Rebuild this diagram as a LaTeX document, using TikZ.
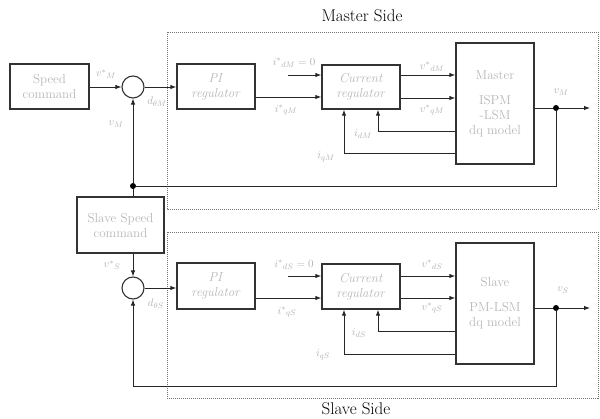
\documentclass[tikz,border=0pt]{standalone}
\usetikzlibrary{arrows.meta}
\begin{document}
\begin{tikzpicture}[x=1pt,y=-1pt,
  blk/.style={draw=black!80, line width=1.4pt, fill=white, text=black!28, align=center,
    font=\fontsize{13}{15}\selectfont, inner sep=0pt},
  sumc/.style={circle, draw=black!80, line width=1.1pt, minimum size=22pt, inner sep=0pt},
  lbl/.style={text=black!30, font=\fontsize{11}{12}\selectfont, inner sep=0pt},
  arr/.style={-{Latex[length=6pt,width=4.5pt]}, line width=0.9pt, draw=black!85},
  ln/.style={line width=0.9pt, draw=black!85},
  zone/.style={draw=black!55, dash pattern=on 1pt off 1pt, line width=0.5pt},
  dotn/.style={circle, fill=black, inner sep=0pt, minimum size=6pt},
  side/.style={font=\fontsize{17}{18}\selectfont, inner sep=0pt}]
\useasboundingbox (0,0) rectangle (600,419);
% zones
\draw[zone] (167,32) rectangle (598,209);
\draw[zone] (167,232) rectangle (598,398);
\node[side] (mside) at (362,16) {Master Side};
\node[side] (sside) at (356,409) {Slave Side};
% master blocks
\node[blk, minimum width=79pt, minimum height=45pt] (spd) at (49.5,86.5) {Speed\\command};
\node[sumc] (sumM) at (133,87) {};
\node[blk, minimum width=78pt, minimum height=45pt] (piM) at (216,86.5) {\textit{PI}\\\textit{regulator}};
\node[blk, minimum width=78pt, minimum height=44pt] (crM) at (361,87) {\textit{Current}\\\textit{regulator}};
\node[blk, minimum width=78pt, minimum height=121pt] (mdM) at (495,103.5) {Master\\[10pt]ISPM\\-LSM\\dq model};
% slave blocks
\node[blk, minimum width=87pt, minimum height=56pt] (sspd) at (120.5,225) {Slave Speed\\command};
\node[sumc] (sumS) at (133,288) {};
\node[blk, minimum width=78pt, minimum height=46pt] (piS) at (216,286) {\textit{PI}\\\textit{regulator}};
\node[blk, minimum width=78pt, minimum height=45pt] (crS) at (361,286.5) {\textit{Current}\\\textit{regulator}};
\node[blk, minimum width=78pt, minimum height=121pt] (mdS) at (495,303.5) {Slave\\[10pt]PM-LSM\\dq model};
% coordinates
\coordinate (idM0) at (288,75);
\coordinate (iqMy) at (0,97);
\coordinate (vdMy) at (0,75);
\coordinate (vqMy) at (0,98);
\coordinate (fdM) at (378,131);
\coordinate (fqM) at (344,153);
\node[dotn] (oM) at (556,108) {};
\coordinate (eM) at (590,108);
\node[dotn] (jM) at (133,186) {};
\coordinate (idS0) at (288,276);
\coordinate (iqSy) at (0,298);
\coordinate (vdSy) at (0,276);
\coordinate (vqSy) at (0,298);
\coordinate (fdS) at (378,331);
\coordinate (fqS) at (344,354);
\node[dotn] (oS) at (556,308) {};
\coordinate (eS) at (590,308);
\coordinate (bS) at (556,386);
% master connections
\draw[arr] (spd.east |- sumM.west) -- (sumM.west);
\draw[arr] (sumM.east) -- (piM.west |- sumM.east);
\draw[arr] (idM0) -- (crM.west |- idM0);
\draw[arr] (piM.east |- iqMy) -- (crM.west |- iqMy);
\draw[arr] (crM.east |- vdMy) -- (mdM.west |- vdMy);
\draw[arr] (crM.east |- vqMy) -- (mdM.west |- vqMy);
\draw[arr] (mdM.west |- fdM) -- (fdM) -- (crM.south -| fdM);
\draw[arr] (mdM.west |- fqM) -- (fqM) -- (crM.south -| fqM);
\draw[ln] (mdM.east |- oM) -- (oM);
\draw[arr] (oM) -- (eM);
\draw[ln] (oM) -- (oM |- jM) -- (jM);
\draw[arr] (jM) -- (sumM.south);
\draw[ln] (jM) -- (jM |- sspd.north);
% slave connections
\draw[arr] (sumS.north |- sspd.south) -- (sumS.north);
\draw[arr] (sumS.east) -- (piS.west |- sumS.east);
\draw[arr] (idS0) -- (crS.west |- idS0);
\draw[arr] (piS.east |- iqSy) -- (crS.west |- iqSy);
\draw[arr] (crS.east |- vdSy) -- (mdS.west |- vdSy);
\draw[arr] (crS.east |- vqSy) -- (mdS.west |- vqSy);
\draw[arr] (mdS.west |- fdS) -- (fdS) -- (crS.south -| fdS);
\draw[arr] (mdS.west |- fqS) -- (fqS) -- (crS.south -| fqS);
\draw[ln] (mdS.east |- oS) -- (oS);
\draw[arr] (oS) -- (eS);
\draw[arr] (oS) -- (bS) -- (sumS.south |- bS) -- (sumS.south);
% labels master
\node[lbl] (lvsM) at (106,74) {$v^{*}{}_{M}$};
\node[lbl] (ldM) at (157,102) {$d_{\theta M}$};
\node[lbl] (lvM) at (116,124) {$v_M$};
\node[lbl] (lidM) at (294,63) {$i^{*}{}_{dM}=0$};
\node[lbl] (liqM) at (286,110) {$i^{*}{}_{qM}$};
\node[lbl] (lvdM) at (432,67) {$v^{*}{}_{dM}$};
\node[lbl] (lvqM) at (432,110) {$v^{*}{}_{qM}$};
\node[lbl] (lfdM) at (363,134) {$i_{dM}$};
\node[lbl] (lfqM) at (326,157) {$i_{qM}$};
\node[lbl] (loM) at (561,92) {$v_M$};
% labels slave
\node[lbl] (lvsS) at (112,265) {$v^{*}{}_{S}$};
\node[lbl] (ldS) at (156,304) {$d_{\theta S}$};
\node[lbl] (lidS) at (294,265) {$i^{*}{}_{dS}=0$};
\node[lbl] (liqS) at (287,312) {$i^{*}{}_{qS}$};
\node[lbl] (lvdS) at (432,265) {$v^{*}{}_{dS}$};
\node[lbl] (lvqS) at (432,308) {$v^{*}{}_{qS}$};
\node[lbl] (lfdS) at (359,333) {$i_{dS}$};
\node[lbl] (lfqS) at (323,355) {$i_{qS}$};
\node[lbl] (loS) at (563,290) {$v_S$};
\end{tikzpicture}
\end{document}
